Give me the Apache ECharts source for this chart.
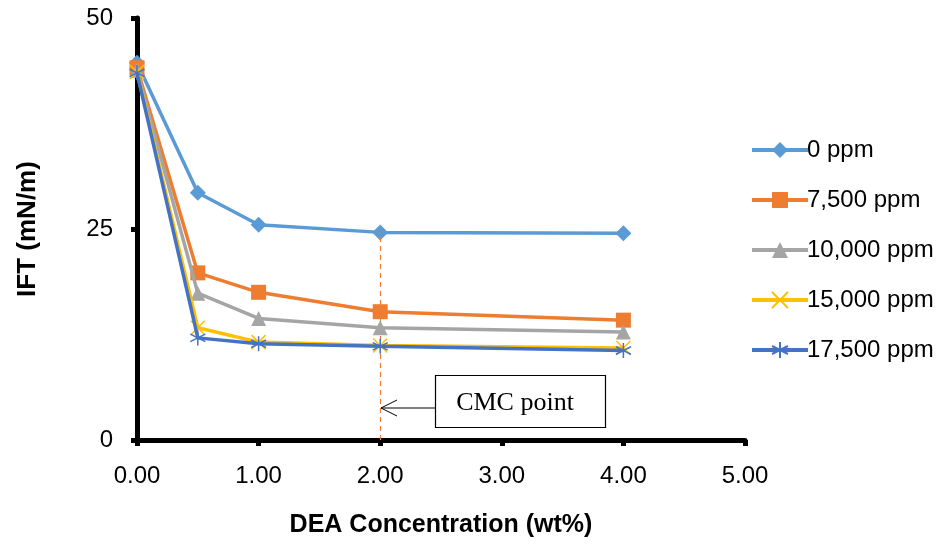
<!DOCTYPE html>
<html>
<head>
<meta charset="utf-8">
<script src="https://cdn.jsdelivr.net/npm/echarts@6/dist/echarts.min.js"></script>
<style>
  html, body { margin: 0; padding: 0; background: #fff; }
  #chart { width: 940px; height: 545px; }
</style>
</head>
<body>
<div id="chart"></div>
<script>
"use strict";

// DEA concentration (wt%)
const concentrations = [0, 0.5, 1, 2, 4];
const seriesNames = ['0 ppm', '7,500 ppm', '10,000 ppm', '15,000 ppm', '17,500 ppm'];
// IFT (mN/m) per salinity
const ift0 = [44.7, 29.3, 25.5, 24.6, 24.5];
const ift7500 = [44.1, 19.8, 17.5, 15.2, 14.2];
const ift10000 = [43.8, 17.4, 14.4, 13.3, 12.8];
const ift15000 = [43.6, 13.3, 11.6, 11.2, 10.9];
const ift17500 = [43.5, 12.1, 11.4, 11.1, 10.6];
const cmcX = 2;

const colors = ['#5b9bd5', '#ed7d31', '#a5a5a5', '#ffc000', '#4472c4'];
const symbols = [
  'diamond',
  'rect',
  'triangle',
  'path://M0,0L10,10M10,0L0,10',
  'path://M5,0L5,10M0.7,2.5L9.3,7.5M0.7,7.5L9.3,2.5'
];
const symbolSizes = [16, 15, 15, 14, 15];
const allData = [ift0, ift7500, ift10000, ift15000, ift17500];

const font = 'Liberation Sans';

var chart = echarts.init(document.getElementById('chart'));

var series = allData.map(function (vals, i) {
  return {
    name: seriesNames[i],
    type: 'line',
    data: vals.map(function (v, k) { return [concentrations[k], v]; }),
    symbol: symbols[i],
    symbolSize: symbolSizes[i],
    showAllSymbol: true,
    z: 3 + i,
    lineStyle: { color: colors[i], width: 3.5 },
    itemStyle: {
      color: colors[i],
      borderColor: colors[i],
      borderWidth: i >= 3 ? 1.5 : 0
    },
    emphasis: { disabled: true }
  };
});

// dashed CMC line at 2 wt%
series[0].markLine = {
  silent: true,
  symbol: ['none', 'none'],
  label: { show: false },
  lineStyle: { color: '#ed7d31', type: [5, 4], width: 1.2 },
  data: [[{ coord: [cmcX, 0] }, { coord: [cmcX, ift0[3]] }]]
};

chart.setOption({
  animation: false,
  textStyle: { fontFamily: font },
  grid: { left: 137, top: 18, right: 195, bottom: 105 },
  legend: {
    orient: 'vertical',
    left: 745,
    top: 133,
    itemWidth: 56,
    itemHeight: 20,
    itemGap: 26,
    lineStyle: { width: 4 },
    textStyle: { fontFamily: font, fontSize: 24, color: '#000', padding: [0, 0, 0, -6] },
    data: seriesNames
  },
  xAxis: {
    type: 'value',
    min: 0,
    max: 5,
    interval: 1,
    name: 'DEA Concentration (wt%)',
    nameLocation: 'middle',
    nameGap: 73,
    nameTextStyle: { fontFamily: font, fontSize: 25, fontWeight: 'bold', color: '#000' },
    axisLine: { lineStyle: { color: '#000', width: 5 } },
    axisTick: { show: true, length: 6, inside: false, lineStyle: { color: '#000', width: 5 } },
    axisLabel: {
      margin: 24,
      fontSize: 24,
      color: '#000',
      formatter: function (v) { return v.toFixed(2); }
    },
    splitLine: { show: false }
  },
  yAxis: {
    type: 'value',
    min: 0,
    max: 50,
    interval: 25,
    name: 'IFT (mN/m)',
    nameLocation: 'middle',
    nameGap: 96,
    nameTextStyle: { fontFamily: font, fontSize: 26, fontWeight: 'bold', color: '#000' },
    axisLine: { show: true, lineStyle: { color: '#000', width: 5 } },
    axisTick: { show: true, length: 6, lineStyle: { color: '#000', width: 5 } },
    axisLabel: { margin: 24, fontSize: 24, color: '#000' },
    splitLine: { show: false }
  },
  graphic: [
    {
      type: 'rect',
      shape: { x: 435.5, y: 375.5, width: 170, height: 52 },
      style: { fill: '#fff', stroke: '#000', lineWidth: 1.2 },
      z: 10
    },
    {
      type: 'text',
      x: 515,
      y: 403,
      style: {
        text: 'CMC point',
        font: '26px "Liberation Serif"',
        fill: '#000',
        align: 'center',
        verticalAlign: 'middle'
      },
      z: 11
    },
    {
      type: 'polyline',
      shape: { points: [[435, 408], [381, 408]] },
      style: { stroke: '#000', lineWidth: 1, fill: null },
      z: 11
    },
    {
      type: 'polyline',
      shape: { points: [[397, 400], [381, 408], [397, 416]] },
      style: { stroke: '#000', lineWidth: 1, fill: null },
      z: 11
    }
  ],
  series: series
});
</script>
</body>
</html>
